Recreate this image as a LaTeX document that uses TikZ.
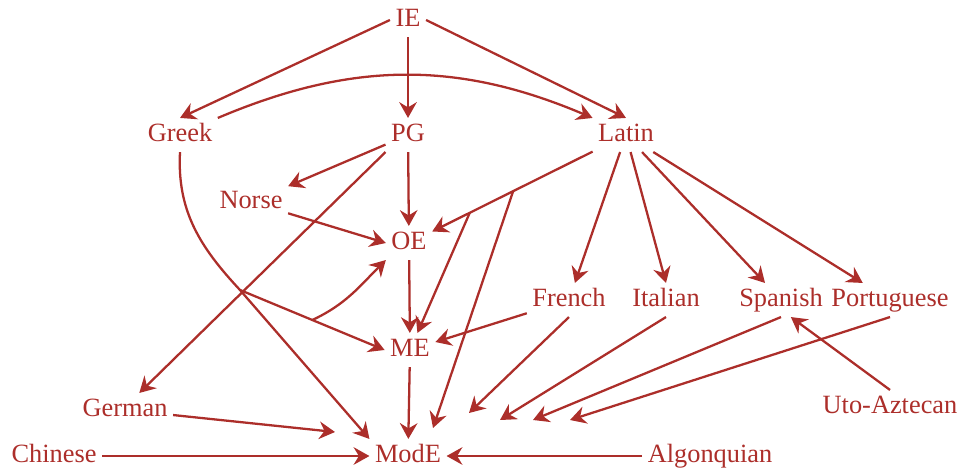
\documentclass[tikz,border=0pt]{standalone}
\usepackage{fontspec}
\setmainfont{Liberation Serif}
\usetikzlibrary{arrows.meta,calc}
\definecolor{ink}{RGB}{172,46,42}

\begin{document}
\begin{tikzpicture}[
    lang/.style={text=ink, font=\fontsize{15}{18}\selectfont, inner sep=3pt, text height=10pt, text depth=3pt},
    link/.style={draw=ink, line width=1.3pt, -{Stealth[length=9pt,width=10pt,inset=3pt]}}
  ]
    \useasboundingbox (0,0) rectangle (19.32,-9.5);

    \node[lang] (ie) at (8.16,-0.4) {IE};
    \node[lang] (greek) at (3.6,-2.7) {Greek};
    \node[lang] (pg) at (8.16,-2.7) {PG};
    \node[lang] (latin) at (12.52,-2.7) {Latin};
    \node[lang] (norse) at (5.02,-4.04) {Norse};
    \node[lang] (oe) at (8.18,-4.86) {OE};
    \node[lang] (french) at (11.38,-6.0) {French};
    \node[lang] (italian) at (13.32,-6.0) {Italian};
    \node[lang] (spanish) at (15.62,-6.0) {Spanish};
    \node[lang] (portuguese) at (17.8,-6.0) {Portuguese};
    \node[lang] (me) at (8.2,-7.0) {ME};
    \node[lang] (german) at (2.5,-8.2) {German};
    \node[lang] (uto) at (17.8,-8.14) {Uto-Aztecan};
    \node[lang] (chinese) at (1.08,-9.12) {Chinese};
    \node[lang] (mode) at (8.16,-9.12) {ModE};
    \node[lang] (algonquian) at (14.2,-9.12) {Algonquian};

    % branch points and loose arrow ends
    \coordinate (gfork) at (4.8,-5.8);
    \coordinate (gsplit) at ($(gfork)!0.5!(me.west)$);
    \coordinate (lsplitA) at ($(latin)!0.52!(oe)$);
    \coordinate (lsplitB) at ($(latin)!0.72!(oe)$);
    \coordinate (tipGe) at (6.7,-8.64);
    \coordinate (tipL) at (8.66,-8.56);
    \coordinate (tipF) at (9.38,-8.26);
    \coordinate (tipI) at (10.0,-8.4);
    \coordinate (tipS) at (10.66,-8.4);
    \coordinate (tipP) at (11.4,-8.4);

    \draw[link] (ie.west) -- (greek.north);
    \draw[link] (ie) -- (pg);
    \draw[link] (ie.east) -- (latin.north);
    \draw[link] (greek.north east) to[bend left=23] (latin.north west);

    \draw[link] (pg) -- (norse);
    \draw[link] (pg) -- (oe);
    \draw[link] (pg.south west) -- (german.50);
    \draw[link] (norse) -- (oe.west);

    \draw[link] (latin) -- (oe);
    \draw[link] (lsplitA) -- (tipL);
    \draw[link] (lsplitB) -- (me);
    \draw[link] (latin) -- (french);
    \draw[link] (latin.-75) -- (italian.north);
    \draw[link] (latin) -- (spanish);
    \draw[link] (latin) -- (portuguese);

    \draw[link] (greek.south) to[out=-93,in=133] (gfork) -- (mode.north west);
    \draw[link] (gfork) -- (me.west);
    \draw[link] (gsplit) to[out=25,in=-135] (oe.south west);

    \draw[link] (oe) -- (me);
    \draw[link] (me) -- (mode);
    \draw[link] (french) -- (me);
    \draw[link] (french.south) -- (tipF);
    \draw[link] (italian.south) -- (tipI);
    \draw[link] (spanish.south) -- (tipS);
    \draw[link] (portuguese.south) -- (tipP);
    \draw[link] (uto.north) -- (spanish.-60);

    \draw[link] (german) -- (tipGe);
    \draw[link] (chinese) -- (mode);
    \draw[link] (algonquian) -- (mode);
\end{tikzpicture}
\end{document}
